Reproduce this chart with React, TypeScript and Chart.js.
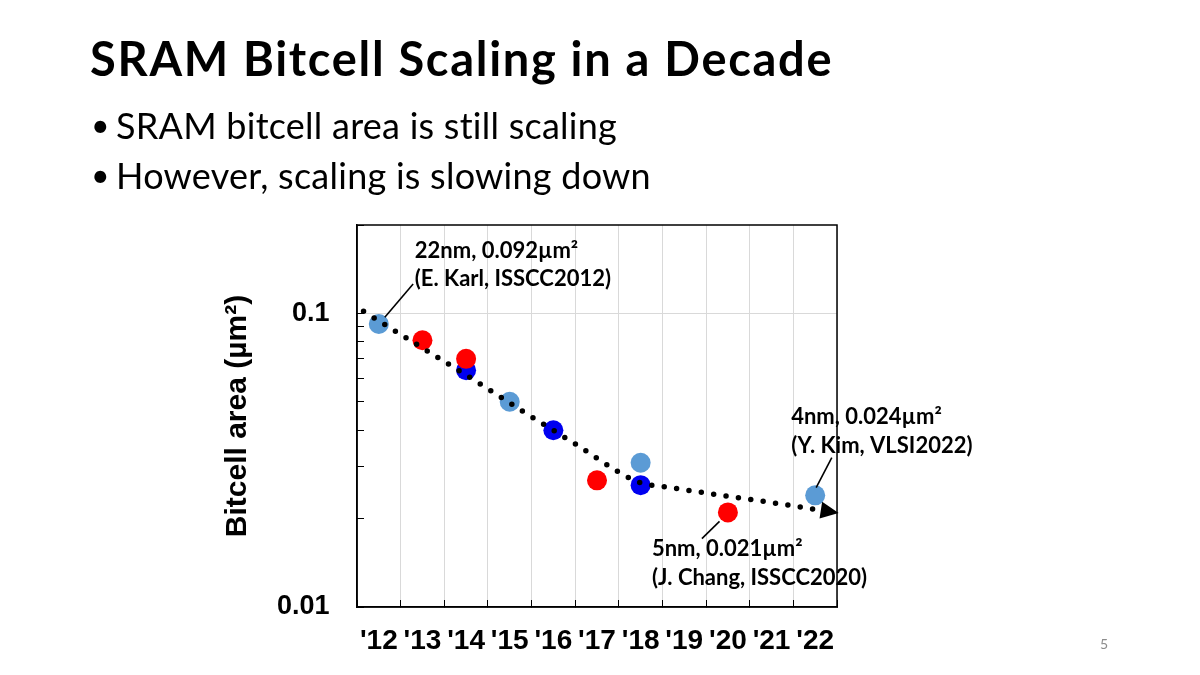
import React, { useEffect, useRef } from "react";
import { Chart, registerables } from "chart.js";

Chart.register(...registerables);

// ---- Data ----
const years = [2012, 2013, 2014, 2015, 2016, 2017, 2018, 2019, 2020, 2021, 2022];
const xTickLabels = ["'12", "'13", "'14", "'15", "'16", "'17", "'18", "'19", "'20", "'21", "'22"];
const yTickValues = [0.01, 0.1];
const yTickLabels = ["0.01", "0.1"];
const yMinorTicks = [0.02, 0.03, 0.04, 0.05, 0.06, 0.07, 0.08, 0.09];
const yMin = 0.01;
const yMax = 0.2;

const lightBlueYears = [2012, 2015, 2018, 2022];
const lightBlueValues = [0.092, 0.05, 0.031, 0.024];

const redYears = [2013, 2014, 2017, 2020];
const redValues = [0.081, 0.07, 0.027, 0.021];

const blueYears = [2014, 2016, 2018];
const blueValues = [0.064, 0.04, 0.026];

const trendYears = [2011.65, 2012.88, 2014.11, 2015.31, 2016.53, 2017.5, 2018.02, 2018.58, 2019.73, 2021.16, 2022.13];
const trendValues = [0.1016, 0.0782, 0.0602, 0.0463, 0.0357, 0.0288, 0.0264, 0.02565, 0.02415, 0.0225, 0.02136];

const note22Lines = ["22nm, 0.092µm²", "(E. Karl, ISSCC2012)"];
const note4Lines = ["4nm, 0.024µm²", "(Y. Kim, VLSI2022)"];
const note5Lines = ["5nm, 0.021µm²", "(J. Chang, ISSCC2020)"];

const yTitle = "Bitcell area (µm²)";
const slideTitle = "SRAM Bitcell Scaling in a Decade";
const bullets = ["SRAM bitcell area is still scaling", "However, scaling is slowing down"];
const pageNumber = "5";

const COLORS = {
  lightBlue: "#5B9BD5",
  red: "#FF0000",
  blue: "#0000F0",
  grid: "#D9D9D9",
  axis: "#000000",
};

const AXIS_FONT = "'Liberation Sans', Arial, sans-serif";

const toPoints = (xs: number[], ys: number[]) => xs.map((x, i) => ({ x, y: ys[i] }));

const framePlugin = {
  id: "frame",
  afterDraw(chart: any) {
    const { ctx, chartArea } = chart;
    ctx.save();
    ctx.strokeStyle = COLORS.axis;
    ctx.lineWidth = 1.5;
    ctx.strokeRect(chartArea.left, chartArea.top, chartArea.right - chartArea.left, chartArea.bottom - chartArea.top);
    ctx.restore();
  },
};

const arrowPlugin = {
  id: "trendArrow",
  afterDatasetsDraw(chart: any) {
    const meta = chart.getDatasetMeta(0);
    const pts = meta.data;
    if (!pts || pts.length < 2) return;
    const last = pts[pts.length - 1];
    const prev = pts[pts.length - 2];
    let dx = last.x - prev.x;
    let dy = last.y - prev.y;
    const len = Math.hypot(dx, dy) || 1;
    dx /= len;
    dy /= len;
    const L = 18;
    const W = 8.5;
    const { ctx } = chart;
    ctx.save();
    ctx.fillStyle = "#000";
    ctx.beginPath();
    ctx.moveTo(last.x + dx * L, last.y + dy * L);
    ctx.lineTo(last.x - dy * W, last.y + dx * W);
    ctx.lineTo(last.x + dy * W, last.y - dx * W);
    ctx.closePath();
    ctx.fill();
    ctx.restore();
  },
};

const notesPlugin = {
  id: "notes",
  afterDatasetsDraw(chart: any) {
    const { ctx, scales } = chart;
    const xs = scales.x;
    const ys = scales.y;
    const notes = [
      { lines: note22Lines, ax: lightBlueYears[0], ay: lightBlueValues[0], tx: 36, b1: -66.3, b2: -38, l: [6, -6.7, 34.3, -40] },
      { lines: note4Lines, ax: lightBlueYears[3], ay: lightBlueValues[3], tx: -24, b1: -71, b2: -42.7, l: [1, -7.7, 16.6, -37.7] },
      { lines: note5Lines, ax: redYears[3], ay: redValues[3], tx: -76, b1: 44, b2: 72.3, l: [-8.4, 9, -26, 26.3] },
    ];
    ctx.save();
    ctx.fillStyle = "#000";
    ctx.strokeStyle = "#000";
    ctx.lineWidth = 1.6;
    ctx.font = "bold 22px Lato";
    ctx.textAlign = "left";
    ctx.textBaseline = "alphabetic";
    for (const n of notes) {
      const px = xs.getPixelForValue(n.ax);
      const py = ys.getPixelForValue(n.ay);
      ctx.fillText(n.lines[0], px + n.tx, py + n.b1);
      ctx.fillText(n.lines[1], px + n.tx, py + n.b2);
      ctx.beginPath();
      ctx.moveTo(px + n.l[0], py + n.l[1]);
      ctx.lineTo(px + n.l[2], py + n.l[3]);
      ctx.stroke();
    }
    ctx.restore();
  },
};

function BitcellChart() {
  const ref = useRef<HTMLCanvasElement | null>(null);
  useEffect(() => {
    if (!ref.current) return;
    const chart = new Chart(ref.current, {
      type: "scatter",
      data: {
        datasets: [
          {
            type: "line",
            label: "trend",
            data: toPoints(trendYears, trendValues),
            borderColor: "#000",
            borderWidth: 5.5,
            borderDash: [0, 12.5],
            borderCapStyle: "round",
            pointRadius: 0,
            cubicInterpolationMode: "monotone",
            fill: false,
            clip: false,
            order: 0,
          } as any,
          {
            label: "red",
            data: toPoints(redYears, redValues),
            pointRadius: 10,
            pointBackgroundColor: COLORS.red,
            backgroundColor: COLORS.red,
            borderWidth: 0,
            pointBorderWidth: 0,
            order: 1,
          },
          {
            label: "lightblue",
            data: toPoints(lightBlueYears, lightBlueValues),
            pointRadius: 10,
            pointBackgroundColor: COLORS.lightBlue,
            backgroundColor: COLORS.lightBlue,
            borderWidth: 0,
            pointBorderWidth: 0,
            order: 2,
          },
          {
            label: "blue",
            data: toPoints(blueYears, blueValues),
            pointRadius: 10,
            pointBackgroundColor: COLORS.blue,
            backgroundColor: COLORS.blue,
            borderWidth: 0,
            pointBorderWidth: 0,
            order: 3,
          },
        ],
      },
      options: {
        responsive: false,
        maintainAspectRatio: false,
        animation: false,
        devicePixelRatio: 1,
        layout: { padding: { left: 200, top: 225, right: 363, bottom: 0 } },
        plugins: {
          legend: { display: false },
          tooltip: { enabled: false },
          title: { display: false },
        },
        scales: {
          x: {
            type: "linear",
            position: "bottom",
            min: 2011.5,
            max: 2022.5,
            afterBuildTicks: (scale: any) => {
              scale.ticks = years.map((v) => ({ value: v }));
            },
            afterFit: (scale: any) => {
              scale.height = 68;
            },
            grid: {
              offset: true,
              color: COLORS.grid,
              lineWidth: 1,
              drawTicks: true,
              tickLength: -7,
              tickColor: "#000",
              tickWidth: 1,
            },
            border: { display: true, color: COLORS.axis, width: 1.5 },
            ticks: {
              autoSkip: false,
              maxRotation: 0,
              minRotation: 0,
              padding: 24.5,
              color: "#000",
              font: { family: AXIS_FONT, size: 28, weight: "bold" },
              callback: (v: any) => {
                const i = years.indexOf(Number(v));
                return i >= 0 ? xTickLabels[i] : "";
              },
            },
          },
          y: {
            type: "logarithmic",
            position: "left",
            min: yMin,
            max: yMax,
            afterBuildTicks: (scale: any) => {
              const vals = [yMin, ...yMinorTicks, 0.1, yMax];
              scale.ticks = vals.map((v) => ({ value: v }));
            },
            afterFit: (scale: any) => {
              scale.width = 157;
            },
            grid: {
              color: (c: any) =>
                c.tick && Math.abs(c.tick.value - 0.1) < 1e-9 ? COLORS.grid : "rgba(0,0,0,0)",
              lineWidth: 1,
              drawTicks: true,
              tickLength: -7,
              tickColor: "#000",
              tickWidth: 1,
            },
            border: { display: true, color: COLORS.axis, width: 1.5 },
            title: {
              display: true,
              text: yTitle,
              color: "#000",
              padding: { top: 20, bottom: 0 },
              font: { family: AXIS_FONT, size: 30, weight: "bold" },
            },
            ticks: {
              autoSkip: false,
              padding: 34.5,
              color: "#000",
              font: { family: AXIS_FONT, size: 27, weight: "bold" },
              callback: (v: any) => {
                const n = Number(v);
                const i = yTickValues.findIndex((t) => Math.abs(t - n) < 1e-9);
                return i >= 0 ? yTickLabels[i] : "";
              },
            },
          },
        },
      },
      plugins: [notesPlugin, arrowPlugin, framePlugin],
    } as any);
    return () => chart.destroy();
  }, []);
  return (
    <canvas
      ref={ref}
      width={1200}
      height={675}
      style={{ position: "absolute", left: 0, top: 0, width: 1200, height: 675 }}
    />
  );
}

export default function App() {
  return (
    <div
      style={{
        position: "fixed",
        left: 0,
        top: 0,
        width: 1200,
        height: 675,
        background: "#fff",
        overflow: "hidden",
        fontFamily: "Lato, 'Open Sans', sans-serif",
        color: "#000",
      }}
    >
      <BitcellChart />
      <div
        style={{
          position: "absolute",
          left: 90,
          top: 35,
          fontSize: 47,
          lineHeight: "47px",
          fontWeight: 700,
          letterSpacing: 1.7,
          whiteSpace: "nowrap",
        }}
      >
        {slideTitle}
      </div>
      {bullets.map((b, i) => (
        <div key={i}>
          <div
            style={{
              position: "absolute",
              left: 91,
              top: 107.4 + i * 50,
              fontSize: 32,
              lineHeight: "36px",
              whiteSpace: "nowrap",
            }}
          >
            •
          </div>
          <div
            style={{
              position: "absolute",
              left: 116,
              top: 107.4 + i * 50,
              fontSize: 36,
              lineHeight: "36px",
              letterSpacing: 0.25,
              whiteSpace: "nowrap",
            }}
          >
            {b}
          </div>
        </div>
      ))}
      <div
        style={{
          position: "absolute",
          left: 1100,
          top: 637,
          fontSize: 14,
          lineHeight: "14px",
          color: "#8c8c8c",
        }}
      >
        {pageNumber}
      </div>
    </div>
  );
}
